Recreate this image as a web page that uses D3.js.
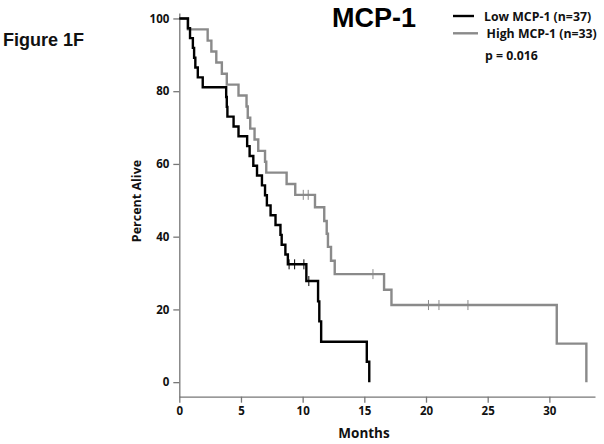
<!DOCTYPE html>
<html><head><meta charset="utf-8">
<script src="https://cdn.jsdelivr.net/npm/d3@7"></script>
<style>
body{margin:0;background:#fff;}
</style></head>
<body><svg id="c" width="604" height="444"></svg>
<script>
// Low MCP-1 (n=37): event times (months) and survival (%) after each drop
const lowTimes = [0.7,0.87,1.1,1.2,1.3,1.5,1.9,3.8,3.85,3.9,4.4,4.8,5.5,5.7,6.0,6.3,6.7,6.95,7.1,7.4,7.8,8.2,8.3,8.6,8.8,10.3,11.25,11.35,11.5,15.2,15.4];
const lowSurv  = [97.3,94.6,91.9,89.2,86.5,83.8,81.1,78.4,75.7,73.0,70.3,67.6,64.9,62.2,59.5,56.8,54.1,51.4,48.6,45.9,43.2,40.5,37.8,35.1,32.4,27.8,22.2,16.7,11.1,5.6,0];
const lowCensT = [8.9,9.35,10.1,10.5];
const lowCensS = [32.4,32.4,32.4,27.8];
// High MCP-1 (n=33)
const highTimes = [0.7,2.3,2.6,3.0,3.45,3.85,4.8,5.45,5.55,5.75,6.1,6.4,6.95,7.05,8.7,9.4,11.0,11.75,11.95,12.05,12.3,12.6,16.6,17.2,30.6,33.0];
const highSurv  = [97.0,93.9,90.9,87.9,84.8,81.8,78.8,75.8,72.7,69.7,66.7,63.6,60.6,57.6,54.5,51.5,48.1,44.3,40.8,37.2,33.4,29.7,25.4,21.2,10.6,0];
const highCensT = [10.05,10.45,15.7,20.2,21.05,23.4];
const highCensS = [51.5,51.5,29.7,21.2,21.2,21.2];

const xTicks = [0,5,10,15,20,25,30];
const yTicks = [0,20,40,60,80,100];
const seriesNames = ["Low MCP-1 (n=37)","High MCP-1 (n=33)"];
const seriesColors = ["#000000","#8a8a8a"];

const OS = "'Open Sans', sans-serif";
const AR = "'Liberation Sans', Arial, sans-serif";

const svg = d3.select("#c");
const x = d3.scaleLinear().domain([0,33.7]).range([179.3,595]);
const y = d3.scaleLinear().domain([-4,101.5]).range([396.7,13]);
const axisColor = "#777";

// axes
const gx = svg.append("g").attr("transform","translate(0,396.7)")
  .call(d3.axisBottom(x).tickValues(xTicks).tickSize(6).tickPadding(4).tickSizeOuter(0));
const gy = svg.append("g").attr("transform","translate(179.3,0)")
  .call(d3.axisLeft(y).tickValues(yTicks).tickSize(6).tickPadding(4).tickSizeOuter(0));
[gx,gy].forEach(g=>{
  g.selectAll("path,line").attr("stroke",axisColor).attr("stroke-width",1.3);
  g.selectAll("text").style("font-family",OS).style("font-weight","bold").style("font-size","11.5px").attr("fill","#111");
});

const line = d3.line().x(d=>x(d[0])).y(d=>y(d[1])).curve(d3.curveStepAfter);
function draw(times,surv,cT,cS,color){
  const pts=[[0,100]].concat(times.map((t,i)=>[t,surv[i]]));
  svg.append("path").datum(pts).attr("d",line).attr("fill","none")
    .attr("stroke",color).attr("stroke-width",2.4).attr("stroke-linejoin","miter");
  svg.append("g").selectAll("line").data(cT.map((t,i)=>[t,cS[i]])).join("line")
    .attr("x1",d=>x(d[0])).attr("x2",d=>x(d[0]))
    .attr("y1",d=>y(d[1])-5).attr("y2",d=>y(d[1])+5)
    .attr("stroke",color).attr("stroke-width",1);
}
draw(highTimes,highSurv,highCensT,highCensS,seriesColors[1]);
draw(lowTimes,lowSurv,lowCensT,lowCensS,seriesColors[0]);

function txt(xp,yp,s,size,fam){
  return svg.append("text").attr("x",xp).attr("y",yp).attr("fill","#111")
    .style("font-family",fam).style("font-weight","bold").style("font-size",size).text(s);
}
// labels
txt(364,438,"Months","13.5px",OS).attr("text-anchor","middle");
svg.append("text").attr("transform","translate(141,201) rotate(-90)").attr("text-anchor","middle")
  .attr("fill","#111").style("font-family",OS).style("font-weight","bold").style("font-size","12.5px").text("Percent  Alive");
txt(3,45.5,"Figure 1F","18px",AR);
txt(332,26.7,"MCP-1","27px",AR).attr("fill","#000");

// legend
const ly=[16,33.3];
seriesNames.forEach((n,i)=>{
  svg.append("line").attr("x1",453).attr("x2",i?478:474).attr("y1",ly[i]).attr("y2",ly[i])
    .attr("stroke",seriesColors[i]).attr("stroke-width",2.4);
  txt(i?486.5:484,ly[i]+4.5,n,"12.3px",OS);
});
txt(485,60,"p = 0.016","12.3px",OS);
</script></body></html>
